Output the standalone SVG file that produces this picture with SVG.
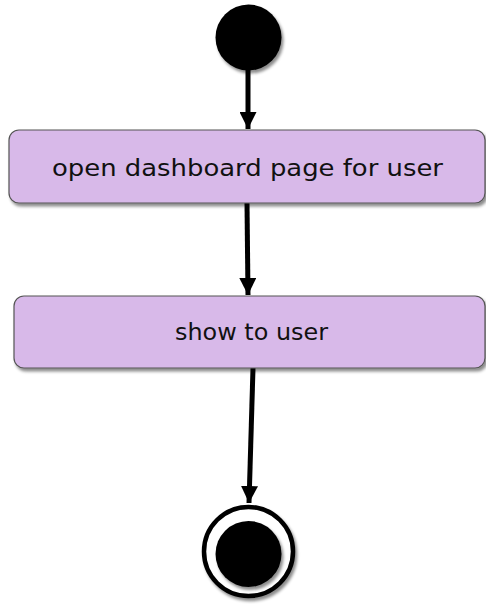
<svg xmlns="http://www.w3.org/2000/svg" width="486" height="604" viewBox="0 0 486 604">
  <defs>
    <filter id="sh" x="-20%" y="-20%" width="140%" height="150%">
      <feDropShadow dx="2" dy="3" stdDeviation="1.8" flood-color="#000" flood-opacity="0.45"/>
    </filter>
    <marker id="arr" viewBox="0 0 10 10" refX="10" refY="5" markerWidth="3.4" markerHeight="3.4" orient="auto" markerUnits="strokeWidth">
      <path d="M0,0 L10,5 L0,10 Z" fill="#000"/>
    </marker>
    <style>
      .box { fill: #D8B9E9; stroke: #555; stroke-width: 1.2; filter: url(#sh); }
      .lbl { font-family: "DejaVu Sans", "Liberation Sans", sans-serif; font-size: 23px; fill: #111; text-anchor: middle; }
      .edge { stroke: #000; stroke-width: 5; fill: none; marker-end: url(#arr); }
    </style>
  </defs>
  <g id="connectors">
    <line class="edge" x1="248" y1="68" x2="248" y2="129"/>
    <line class="edge" x1="247" y1="203" x2="248" y2="295"/>
    <line class="edge" x1="253" y1="368" x2="249" y2="503"/>
  </g>
  <g id="start">
    <circle cx="248.5" cy="37.5" r="33" fill="#000" filter="url(#sh)"/>
  </g>
  <g id="open-dashboard">
    <rect class="box" x="9" y="130" width="476" height="73" rx="10"/>
    <text class="lbl" x="247.5" y="176" textLength="391" lengthAdjust="spacingAndGlyphs">open dashboard page for user</text>
  </g>
  <g id="show-to-user">
    <rect class="box" x="14" y="296" width="471" height="72" rx="10"/>
    <text class="lbl" x="251.5" y="340" textLength="153" lengthAdjust="spacingAndGlyphs">show to user</text>
  </g>
  <g id="end">
    <circle cx="248.5" cy="551.5" r="44.5" fill="#fff" stroke="#000" stroke-width="4.5" filter="url(#sh)"/>
    <circle cx="248.5" cy="554" r="33" fill="#000" filter="url(#sh)"/>
  </g>
</svg>
